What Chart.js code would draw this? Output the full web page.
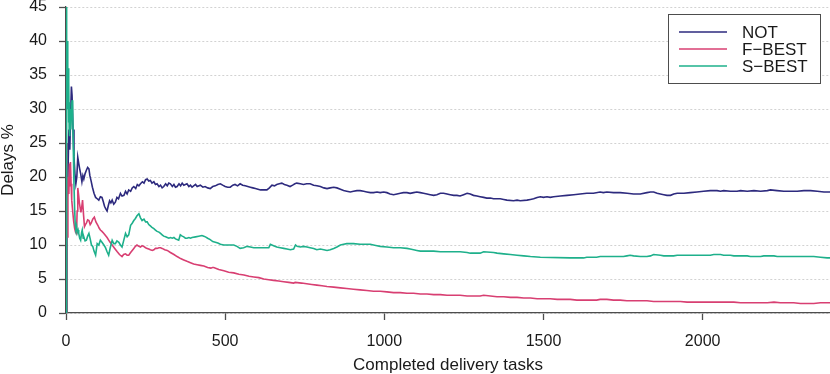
<!DOCTYPE html>
<html>
<head>
<meta charset="utf-8">
<script src="https://cdn.jsdelivr.net/npm/chart.js@4/dist/chart.umd.min.js"></script>
<style>
  html, body { margin: 0; padding: 0; background: #fff; }
  #wrap { width: 830px; height: 374px; }
</style>
</head>
<body>
<div id="wrap"><canvas id="delayChart" width="830" height="374"></canvas></div>
<script>
// --- Data ([task, delay %]) ---
const seriesLabels = ["NOT", "F\u2212BEST", "S\u2212BEST"];
const xTicks = [0, 500, 1000, 1500, 2000];
const yTicks = [0, 5, 10, 15, 20, 25, 30, 35, 40, 45];

const notPts = [
  [1, 0], [3, 25], [6, 20], [9, 27], [12, 24], [15, 30], [17, 33.3], [19, 32], [22, 27], [25, 23],
  [28, 20.5], [31, 19.0], [34, 20], [37, 22.9], [40, 22.0], [43, 21.2], [46, 20.5], [50, 19.3], [53, 20.2], [56, 19.7],
  [60, 20.5], [64, 21.0], [68, 21.4], [72, 21.2], [75, 20.2], [79, 19.4], [83, 18.5], [88, 17.6], [93, 17.0], [98, 16.8],
  [103, 16.6], [108, 17.1], [113, 17.0], [117, 16.4], [121, 15.7], [125, 15.3], [129, 15.0], [133, 15.8], [137, 16.5], [141, 16.2],
  [145, 16.6], [150, 16.0], [155, 16.3], [160, 17.0], [165, 16.8], [171, 17.6], [176, 17.2], [182, 17.3], [187, 17.9], [192, 17.5],
  [197, 18.1], [203, 17.9], [208, 18.4], [213, 18.6], [219, 18.3], [224, 18.9], [229, 18.7], [234, 19.0], [240, 19.3], [245, 19.1],
  [250, 19.6], [255, 19.7], [260, 19.4], [265, 19.5], [270, 19.1], [276, 19.3], [281, 18.9], [286, 19.0], [292, 18.6], [297, 18.8],
  [302, 18.4], [307, 18.6], [313, 19.0], [318, 18.7], [323, 19.1], [328, 19.0], [334, 18.6], [339, 18.9], [344, 18.5], [349, 18.6],
  [355, 19.0], [360, 18.7], [365, 19.1], [370, 18.8], [380, 19.0], [386, 18.6], [391, 18.8], [396, 18.5], [407, 18.9], [412, 18.6],
  [422, 18.8], [430, 18.5], [437, 18.6], [445, 18.4], [453, 18.3], [461, 18.6], [469, 18.7], [477, 18.9], [485, 19.0], [492, 18.8],
  [500, 18.6], [508, 18.5], [516, 18.5], [524, 18.8], [531, 18.9], [539, 18.7], [547, 19.0], [555, 18.8], [563, 18.7], [571, 18.6],
  [579, 18.5], [587, 18.4], [595, 18.3], [603, 18.2], [611, 18.1], [621, 18.1], [631, 18.1], [639, 18.4], [647, 18.8], [655, 18.7],
  [662, 18.9], [670, 19.0], [678, 19.1], [686, 18.9], [694, 18.8], [704, 18.6], [712, 18.8], [719, 19.0], [725, 19.1], [736, 19.0],
  [746, 18.9], [756, 19.0], [767, 19.0], [778, 18.8], [788, 18.7], [799, 18.6], [810, 18.4], [820, 18.3], [830, 18.4], [841, 18.5],
  [851, 18.4], [862, 18.2], [872, 18.0], [882, 17.9], [893, 17.8], [903, 17.9], [914, 18.0], [924, 18.0], [935, 17.9], [945, 17.8],
  [956, 17.7], [966, 17.7], [977, 17.8], [987, 17.7], [998, 17.8], [1008, 17.7], [1018, 17.5], [1029, 17.4], [1040, 17.5], [1050, 17.6],
  [1060, 17.7], [1071, 17.7], [1081, 17.6], [1092, 17.7], [1102, 17.8], [1113, 17.7], [1123, 17.6], [1134, 17.5], [1144, 17.4], [1155, 17.3],
  [1165, 17.4], [1176, 17.6], [1186, 17.6], [1197, 17.5], [1207, 17.4], [1218, 17.3], [1228, 17.3], [1238, 17.2], [1249, 17.4], [1260, 17.6],
  [1270, 17.5], [1280, 17.3], [1291, 17.2], [1301, 17.1], [1312, 17.0], [1322, 16.9], [1333, 16.9], [1343, 16.8], [1364, 16.8], [1375, 16.7],
  [1385, 16.6], [1406, 16.5], [1417, 16.6], [1427, 16.5], [1448, 16.6], [1459, 16.7], [1469, 16.8], [1480, 17.0], [1490, 17.1], [1500, 17.0],
  [1511, 17.1], [1521, 17.0], [1532, 17.1], [1553, 17.2], [1574, 17.3], [1595, 17.4], [1615, 17.5], [1636, 17.6], [1657, 17.6], [1678, 17.8],
  [1688, 17.7], [1699, 17.8], [1720, 17.7], [1741, 17.7], [1763, 17.6], [1783, 17.5], [1804, 17.5], [1825, 17.7], [1836, 17.8], [1846, 17.8],
  [1857, 17.6], [1867, 17.5], [1878, 17.4], [1888, 17.3], [1899, 17.3], [1909, 17.5], [1920, 17.6], [1941, 17.6], [1961, 17.7], [1982, 17.8],
  [2003, 17.9], [2024, 18.0], [2045, 18.0], [2056, 17.9], [2066, 18.0], [2087, 17.9], [2108, 17.9], [2119, 18.0], [2140, 17.9], [2161, 18.0],
  [2182, 17.9], [2203, 18.0], [2213, 18.1], [2234, 18.0], [2255, 17.9], [2276, 17.9], [2297, 17.9], [2318, 18.0], [2339, 18.0], [2360, 17.9],
  [2381, 17.8], [2400, 17.8]
];

const fBestPts = [
  [1, 0], [2, 25], [3, 16], [4, 11.2], [6, 17], [8, 20], [9, 17.5], [11, 22], [12, 18.6], [14, 22.2],
  [16, 19], [18, 16.6], [21, 15], [24, 13.5], [27, 12.5], [30, 11.9], [33, 11.7], [35, 15], [37, 18.4], [40, 17.2],
  [42, 16.2], [45, 15.3], [47, 14.8], [50, 15.8], [52, 16.6], [55, 14.5], [58, 12.7], [61, 13.0], [64, 13.2], [68, 13.7],
  [72, 13.6], [76, 13.0], [79, 13.2], [84, 13.8], [89, 14.1], [94, 13.4], [100, 12.9], [104, 12.5], [108, 12.2], [113, 12.0],
  [119, 11.7], [124, 11.4], [129, 11.1], [137, 10.5], [145, 10.0], [153, 9.5], [161, 9.0], [168, 8.6], [176, 8.3], [181, 8.6],
  [187, 8.7], [192, 8.5], [197, 8.5], [203, 8.9], [208, 9.2], [213, 9.5], [218, 9.8], [223, 10.0], [229, 9.8], [234, 9.7],
  [239, 9.9], [244, 9.8], [250, 9.6], [255, 9.5], [260, 9.4], [265, 9.3], [271, 9.2], [276, 9.3], [281, 9.5], [286, 9.5],
  [292, 9.6], [297, 9.6], [302, 9.5], [310, 9.3], [318, 9.2], [328, 8.9], [339, 8.6], [349, 8.3], [360, 8.0], [370, 7.8],
  [380, 7.6], [391, 7.4], [401, 7.2], [412, 7.1], [422, 7.0], [433, 6.9], [445, 6.7], [455, 6.6], [460, 6.7], [464, 6.7],
  [480, 6.4], [496, 6.2], [511, 6.0], [527, 5.9], [543, 5.7], [559, 5.6], [575, 5.4], [590, 5.3], [606, 5.2], [621, 5.0],
  [637, 4.9], [652, 4.8], [668, 4.7], [684, 4.6], [700, 4.5], [715, 4.4], [720, 4.5], [740, 4.4], [756, 4.3], [772, 4.2],
  [788, 4.1], [804, 4.0], [820, 3.9], [841, 3.8], [862, 3.7], [882, 3.6], [903, 3.5], [924, 3.4], [945, 3.3], [966, 3.2],
  [987, 3.2], [1008, 3.1], [1029, 3.0], [1050, 3.0], [1071, 2.9], [1092, 2.9], [1113, 2.8], [1134, 2.8], [1155, 2.7], [1176, 2.7],
  [1197, 2.6], [1218, 2.6], [1238, 2.6], [1260, 2.5], [1280, 2.5], [1301, 2.5], [1312, 2.6], [1333, 2.5], [1354, 2.4], [1375, 2.4],
  [1396, 2.3], [1417, 2.3], [1438, 2.2], [1459, 2.2], [1480, 2.1], [1500, 2.1], [1521, 2.1], [1543, 2.0], [1563, 2.0], [1584, 2.0],
  [1605, 1.9], [1626, 1.9], [1646, 1.9], [1667, 1.9], [1678, 2.0], [1699, 2.0], [1720, 1.9], [1741, 1.9], [1762, 1.8], [1783, 1.8],
  [1804, 1.8], [1825, 1.8], [1846, 1.7], [1867, 1.7], [1888, 1.7], [1909, 1.7], [1930, 1.7], [1951, 1.6], [1972, 1.6], [1993, 1.6],
  [2014, 1.6], [2035, 1.6], [2056, 1.6], [2077, 1.6], [2098, 1.6], [2119, 1.5], [2140, 1.5], [2161, 1.5], [2182, 1.5], [2203, 1.5],
  [2224, 1.6], [2244, 1.5], [2265, 1.5], [2286, 1.5], [2307, 1.4], [2328, 1.4], [2349, 1.4], [2370, 1.5], [2391, 1.5], [2400, 1.5]
];

const sBestPts = [
  [0, 0], [1, 100], [2, 50], [3, 40], [4, 33], [5, 40], [6, 30], [7, 36], [8, 28], [9, 34],
  [10, 27], [11, 31], [12, 26], [13, 30], [15, 27], [17, 29], [19, 31.3], [21, 30], [23, 24], [25, 19],
  [27, 15.5], [29, 13], [31, 12.4], [33, 12.8], [35, 11.8], [38, 12.2], [40, 11.7], [43, 11.0], [46, 10.7], [49, 11.8],
  [51, 12.2], [54, 11.0], [56, 11.2], [60, 10.6], [64, 10.7], [68, 11.3], [72, 11.7], [76, 10.9], [80, 10.0], [84, 9.8],
  [88, 9.1], [93, 8.5], [98, 10.2], [103, 10.0], [108, 10.7], [113, 10.4], [119, 10.0], [124, 9.6], [129, 9.0], [134, 8.5],
  [139, 9.6], [145, 10.7], [150, 10.2], [155, 10.2], [160, 10.6], [166, 10.4], [171, 10.0], [176, 9.7], [181, 10.6], [187, 11.7],
  [192, 11.2], [197, 11.5], [200, 12.2], [203, 12.9], [208, 13.2], [213, 13.6], [218, 13.9], [223, 14.3], [229, 14.6], [234, 14.0],
  [239, 13.6], [245, 13.8], [250, 13.4], [255, 13.4], [260, 13.0], [265, 12.8], [270, 12.6], [276, 12.4], [281, 12.2], [286, 12.0],
  [292, 11.9], [297, 11.7], [302, 11.5], [307, 11.3], [313, 11.2], [318, 11.1], [323, 11.0], [328, 11.1], [334, 11.0], [339, 11.1],
  [344, 10.9], [349, 10.8], [354, 10.7], [359, 11.5], [365, 11.3], [370, 11.2], [375, 11.0], [380, 11.0], [386, 11.1], [391, 11.0],
  [396, 11.1], [407, 11.2], [417, 11.3], [427, 11.4], [433, 11.3], [438, 11.2], [445, 11.0], [453, 10.8], [461, 10.5], [469, 10.4],
  [477, 10.3], [485, 10.1], [496, 10.0], [516, 10.0], [527, 10.0], [537, 9.8], [547, 9.5], [558, 9.6], [569, 9.8], [579, 9.7],
  [590, 9.6], [611, 9.6], [637, 9.6], [642, 10.1], [652, 9.9], [662, 9.7], [673, 9.6], [684, 9.5], [694, 9.4], [705, 9.3],
  [715, 9.4], [721, 10.0], [726, 9.8], [736, 9.7], [746, 9.8], [757, 9.7], [767, 9.6], [778, 9.5], [788, 9.3], [799, 9.4],
  [810, 9.3], [820, 9.2], [830, 9.3], [841, 9.5], [851, 9.7], [862, 10.0], [872, 10.1], [882, 10.2], [903, 10.2], [924, 10.1],
  [956, 10.1], [966, 10.0], [977, 9.9], [987, 9.8], [1008, 9.7], [1029, 9.6], [1050, 9.6], [1071, 9.5], [1081, 9.4], [1092, 9.3],
  [1102, 9.2], [1113, 9.1], [1155, 9.1], [1176, 9.0], [1238, 9.0], [1260, 8.9], [1270, 8.8], [1301, 8.8], [1312, 9.0], [1343, 8.9],
  [1354, 8.8], [1375, 8.7], [1396, 8.6], [1417, 8.5], [1438, 8.4], [1459, 8.3], [1490, 8.2], [1584, 8.1], [1626, 8.1], [1636, 8.2],
  [1667, 8.2], [1678, 8.3], [1751, 8.3], [1762, 8.4], [1772, 8.5], [1783, 8.4], [1804, 8.3], [1825, 8.3], [1836, 8.4], [1846, 8.6],
  [1867, 8.5], [1878, 8.4], [1909, 8.4], [1920, 8.5], [2024, 8.5], [2035, 8.6], [2056, 8.6], [2066, 8.5], [2087, 8.5], [2098, 8.4],
  [2140, 8.4], [2150, 8.3], [2182, 8.3], [2192, 8.4], [2224, 8.4], [2234, 8.3], [2349, 8.3], [2370, 8.2], [2391, 8.1], [2400, 8.1]
];

const seriesColors = ["#2d2a7e", "#d83f72", "#1eb08b"];

const toXY = pts => pts.map(p => ({ x: p[0], y: p[1] }));

// --- legend box inside the plot, top right ---
const legendBox = {
  id: "legendBox",
  afterDraw(chart) {
    const ctx = chart.ctx;
    ctx.save();
    ctx.fillStyle = "#ffffff";
    ctx.fillRect(668.5, 14.5, 152, 69);
    ctx.strokeStyle = "#4d4d4d";
    ctx.lineWidth = 1;
    ctx.strokeRect(668.5, 14.5, 152, 69);
    ctx.font = '17px "Liberation Sans", Arial, sans-serif';
    ctx.textBaseline = "middle";
    chart.data.datasets.forEach((ds, i) => {
      const y = 32 + i * 17;
      ctx.strokeStyle = ds.borderColor;
      ctx.lineWidth = 1.6;
      ctx.beginPath();
      ctx.moveTo(679, y);
      ctx.lineTo(727, y);
      ctx.stroke();
      ctx.fillStyle = "#1a1a1a";
      ctx.fillText(ds.label, 742, y + 1);
    });
    ctx.restore();
  }
};

const ctx = document.getElementById("delayChart").getContext("2d");
new Chart(ctx, {
  type: "line",
  data: {
    datasets: [
      { label: seriesLabels[0], data: toXY(notPts), borderColor: seriesColors[0], order: 2 },
      { label: seriesLabels[1], data: toXY(fBestPts), borderColor: seriesColors[1], order: 1 },
      { label: seriesLabels[2], data: toXY(sBestPts), borderColor: seriesColors[2], order: 0 }
    ]
  },
  options: {
    responsive: false,
    animation: false,
    layout: { padding: { top: 7, left: 0, right: 0, bottom: 0 } },
    elements: {
      line: { borderWidth: 1.6, tension: 0, fill: false },
      point: { radius: 0, hoverRadius: 0 }
    },
    plugins: {
      legend: { display: false },
      tooltip: { enabled: false }
    },
    scales: {
      x: {
        type: "linear",
        min: 0,
        max: 2400,
        afterBuildTicks: s => { s.ticks = xTicks.map(v => ({ value: v })); },
        ticks: {
          padding: 12,
          color: "#1a1a1a",
          font: { family: '"Liberation Sans", Arial, sans-serif', size: 16 },
          maxRotation: 0,
          callback: v => String(v)
        },
        grid: { drawOnChartArea: false, drawTicks: true, tickLength: 7, tickColor: "#4d4d4d", tickWidth: 1.3 },
        border: { display: true, color: "#4d4d4d", width: 1.3 },
        title: {
          display: true,
          text: "Completed delivery tasks",
          color: "#1a1a1a",
          font: { family: '"Liberation Sans", Arial, sans-serif', size: 17, lineHeight: 1 },
          padding: { top: 3, bottom: 0 }
        },
        afterFit: s => { s.height = 61; s.paddingLeft = 0; s.paddingRight = 0; }
      },
      y: {
        min: 0,
        max: 45,
        afterBuildTicks: s => { s.ticks = yTicks.map(v => ({ value: v })); },
        ticks: {
          padding: 12,
          color: "#1a1a1a",
          font: { family: '"Liberation Sans", Arial, sans-serif', size: 16, lineHeight: 1 }
        },
        grid: {
          color: "#d2d2d2",
          lineWidth: 1,
          drawTicks: true,
          tickLength: 7,
          tickColor: "#4d4d4d",
          tickWidth: 1.3,
          tickBorderDash: []
        },
        border: { display: true, color: "#4d4d4d", width: 1.3, dash: [2, 2] },
        title: {
          display: true,
          text: "Delays %",
          color: "#1a1a1a",
          font: { family: '"Liberation Sans", Arial, sans-serif', size: 17, lineHeight: 1 },
          padding: { top: 0, bottom: 0 }
        },
        afterFit: s => { s.width = 66; s.paddingTop = 0; s.paddingBottom = 0; }
      }
    }
  },
  plugins: [legendBox]
});
</script>
</body>
</html>
